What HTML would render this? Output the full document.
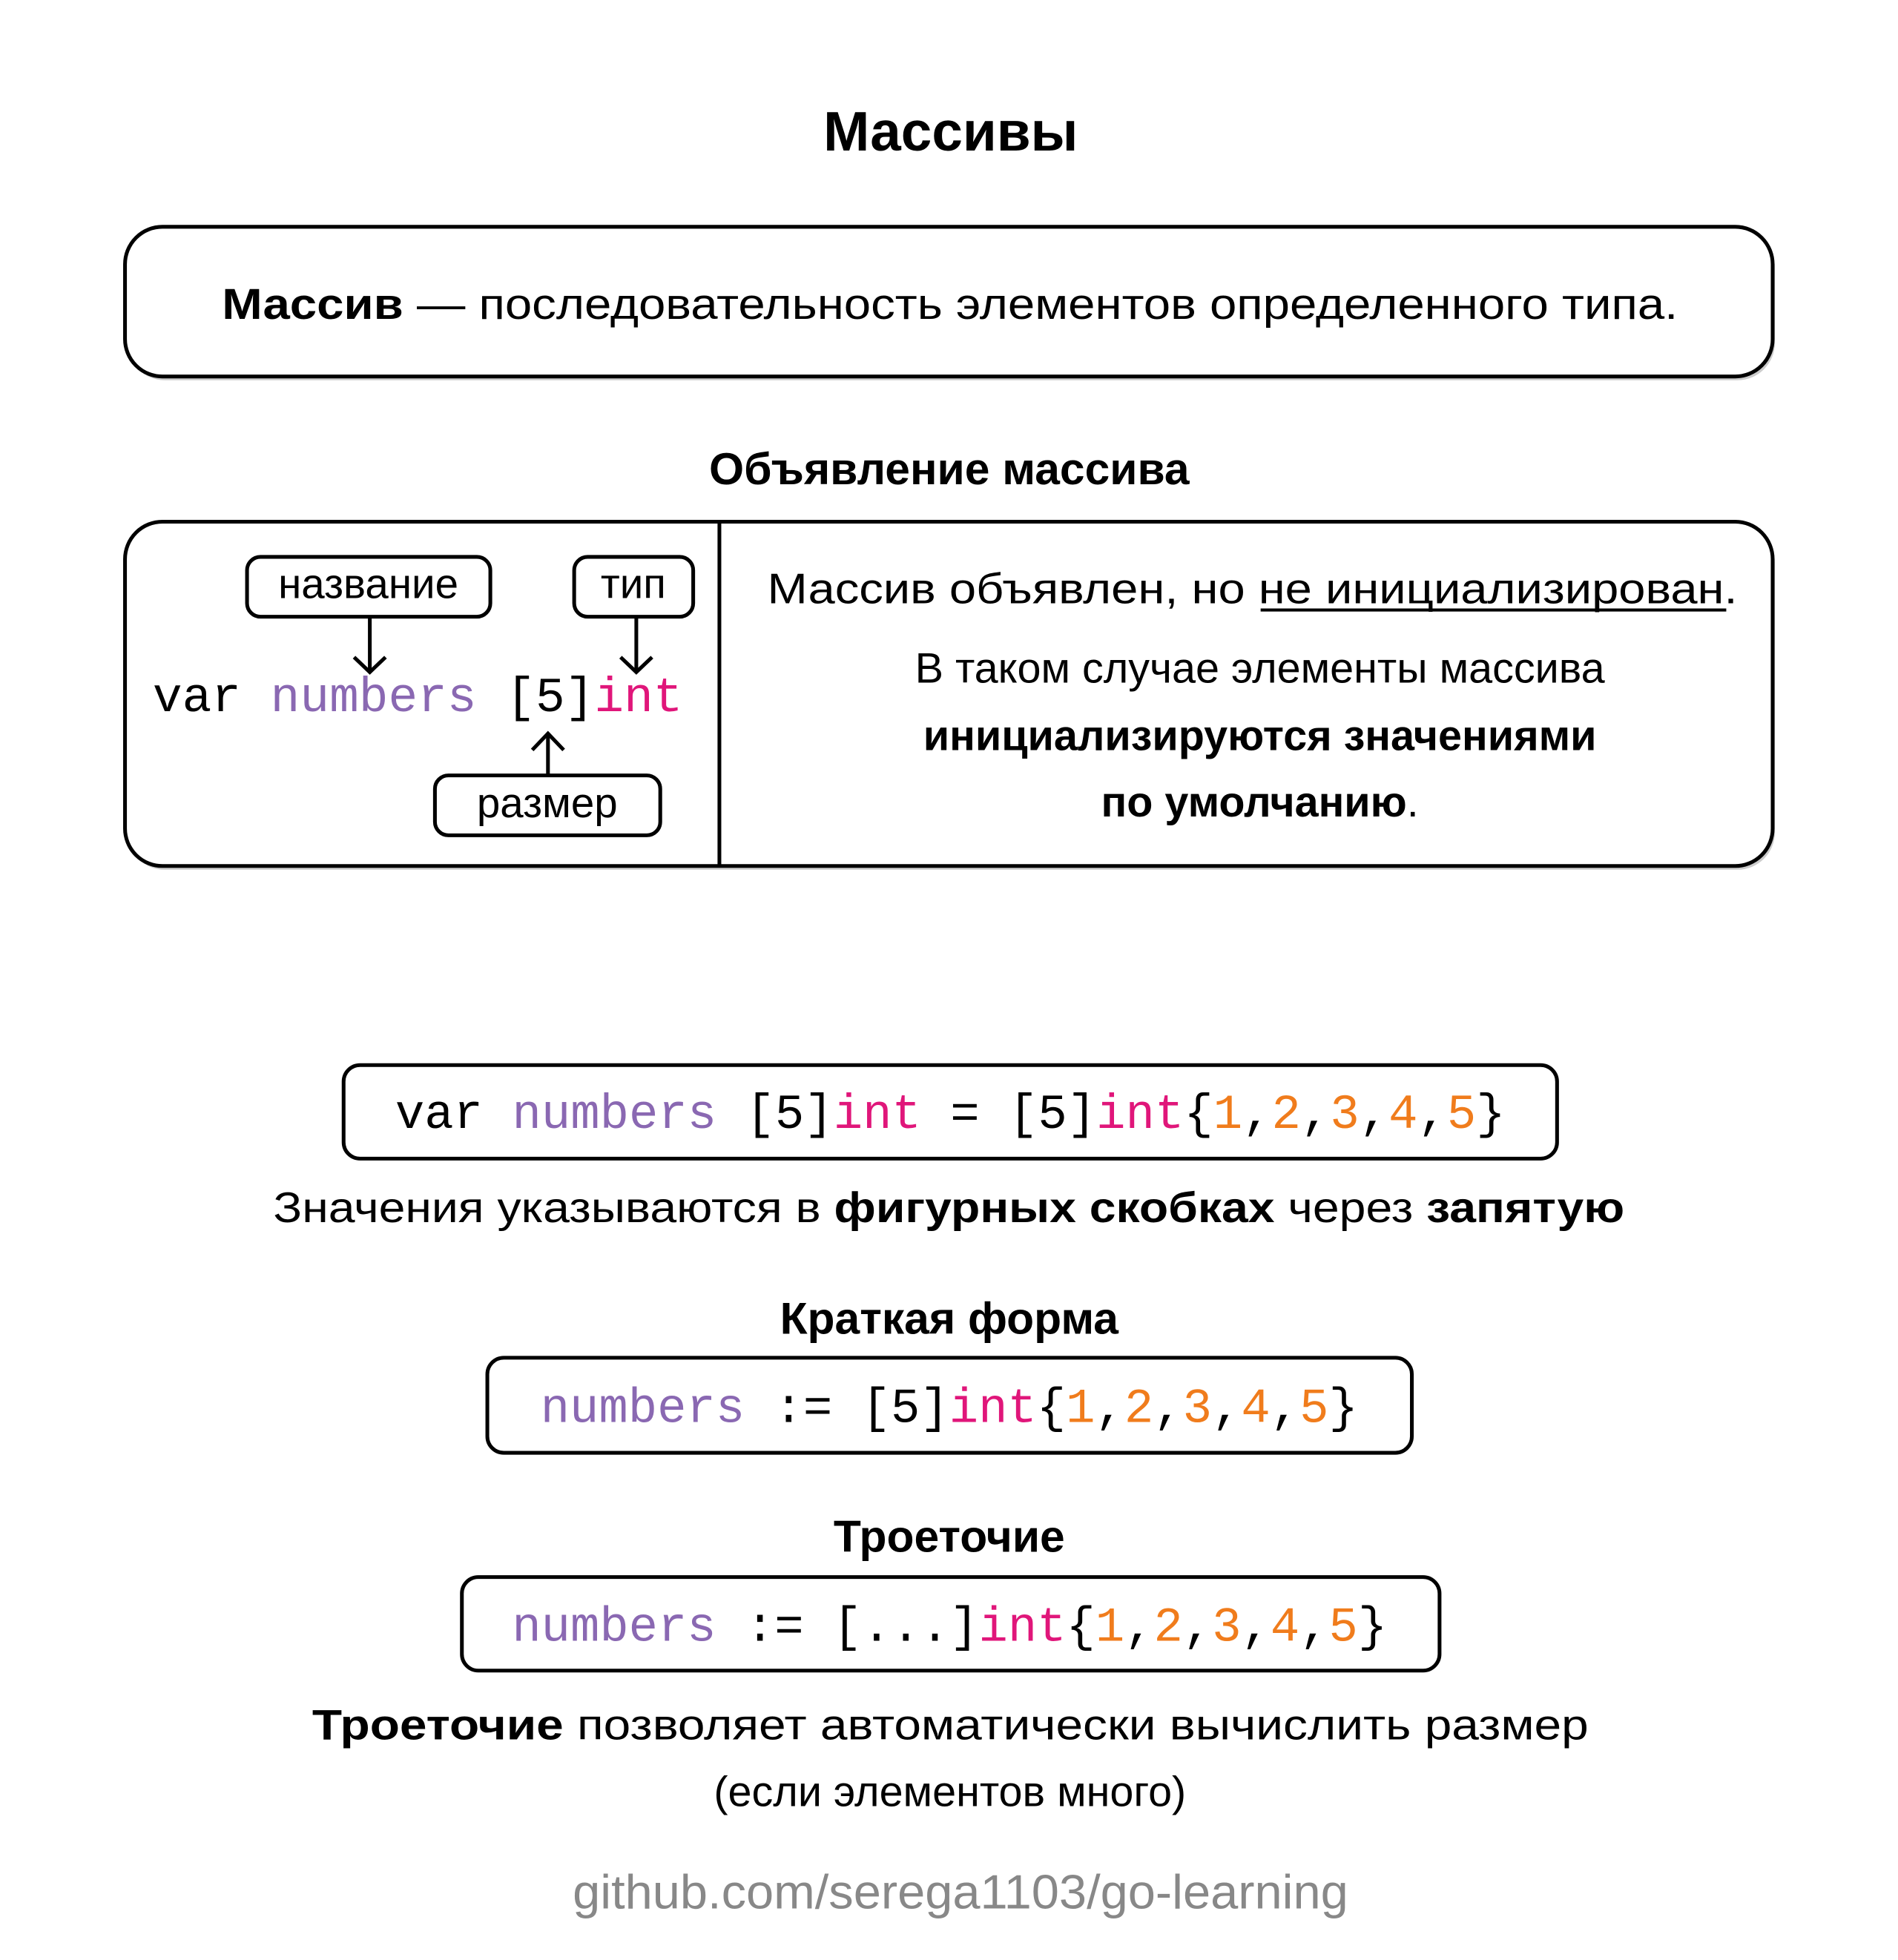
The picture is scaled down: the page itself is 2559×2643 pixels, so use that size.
<!DOCTYPE html>
<html><head><meta charset="utf-8"><style>
html,body{margin:0;padding:0;background:#fff}
svg{display:block}
text{font-family:"Liberation Sans",sans-serif;fill:#000}
.m{font-family:"Liberation Mono",monospace}
.p{fill:#8a68b2}.k{fill:#e0167a}.o{fill:#f07c1c}
.b{font-weight:bold}
</style></head><body>
<svg width="2559" height="2643" viewBox="0 0 2559 2643" xmlns="http://www.w3.org/2000/svg">
<g transform="scale(1.0093)">
<text x="1270" y="201" font-size="74" class="b" text-anchor="middle">Массивы</text>

<rect x="170" y="308" width="2201" height="200" rx="50" fill="#ccc"/>
<rect x="167" y="303" width="2201" height="200" rx="50" fill="#fff" stroke="#000" stroke-width="5"/>
<text x="1269" y="426" font-size="58" text-anchor="middle" textLength="1945" lengthAdjust="spacingAndGlyphs"><tspan class="b">Массив</tspan> — последовательность элементов определенного типа.</text>

<text x="1268" y="647" font-size="60" class="b" text-anchor="middle">Объявление массива</text>

<rect x="170" y="702" width="2201" height="460" rx="50" fill="#ccc"/>
<rect x="167" y="697" width="2201" height="460" rx="50" fill="#fff" stroke="#000" stroke-width="5"/>
<line x1="961" y1="697" x2="961" y2="1159" stroke="#000" stroke-width="5"/>

<rect x="330" y="744" width="325" height="80" rx="18" fill="#fff" stroke="#000" stroke-width="5"/>
<text x="492" y="799" font-size="56" text-anchor="middle">название</text>
<rect x="767" y="744" width="159" height="80" rx="18" fill="#fff" stroke="#000" stroke-width="5"/>
<text x="846" y="799" font-size="56" text-anchor="middle">тип</text>
<rect x="581" y="1036" width="301" height="80" rx="18" fill="#fff" stroke="#000" stroke-width="5"/>
<text x="731" y="1092" font-size="56" text-anchor="middle">размер</text>

<g stroke="#000" stroke-width="5" fill="none">
<line x1="494" y1="824" x2="494" y2="898"/><polyline points="473,878 494,898 515,878"/>
<line x1="850" y1="824" x2="850" y2="898"/><polyline points="829,878 850,898 871,878"/>
<line x1="732" y1="1036" x2="732" y2="980"/><polyline points="711,1002 732,980 753,1002"/>
</g>
<text x="204" y="950" font-size="65" class="m" textLength="708" lengthAdjust="spacingAndGlyphs">var <tspan class="p">numbers</tspan> [5]<tspan class="k">int</tspan></text>

<text x="1025" y="806" font-size="57" textLength="1296" lengthAdjust="spacingAndGlyphs">Массив объявлен, но не инициализирован.</text>
<line x1="1684" y1="815" x2="2306" y2="815" stroke="#000" stroke-width="4"/>
<text x="1683" y="912" font-size="57" text-anchor="middle">В таком случае элементы массива</text>
<text x="1683" y="1002" font-size="57" class="b" text-anchor="middle">инициализируются значениями</text>
<text x="1683" y="1091" font-size="57" text-anchor="middle"><tspan class="b">по умолчанию</tspan>.</text>

<rect x="459" y="1423" width="1621" height="125" rx="22" fill="#fff" stroke="#000" stroke-width="5"/>
<text x="528" y="1507" font-size="65" class="m" textLength="1483" lengthAdjust="spacingAndGlyphs">var <tspan class="p">numbers</tspan> [5]<tspan class="k">int</tspan> = [5]<tspan class="k">int</tspan>{<tspan class="o">1</tspan>,<tspan class="o">2</tspan>,<tspan class="o">3</tspan>,<tspan class="o">4</tspan>,<tspan class="o">5</tspan>}</text>
<text x="365" y="1633" font-size="57" textLength="1805" lengthAdjust="spacingAndGlyphs">Значения указываются в <tspan class="b">фигурных скобках</tspan> через <tspan class="b">запятую</tspan></text>

<text x="1268" y="1782" font-size="60" class="b" text-anchor="middle">Краткая форма</text>
<rect x="651" y="1814" width="1235" height="127" rx="22" fill="#fff" stroke="#000" stroke-width="5"/>
<text x="722" y="1900" font-size="65" class="m" textLength="1092" lengthAdjust="spacingAndGlyphs"><tspan class="p">numbers</tspan> := [5]<tspan class="k">int</tspan>{<tspan class="o">1</tspan>,<tspan class="o">2</tspan>,<tspan class="o">3</tspan>,<tspan class="o">4</tspan>,<tspan class="o">5</tspan>}</text>

<text x="1268" y="2073" font-size="60" class="b" text-anchor="middle">Троеточие</text>
<rect x="617" y="2107" width="1306" height="125" rx="22" fill="#fff" stroke="#000" stroke-width="5"/>
<text x="684" y="2192" font-size="65" class="m" textLength="1169" lengthAdjust="spacingAndGlyphs"><tspan class="p">numbers</tspan> := [...]<tspan class="k">int</tspan>{<tspan class="o">1</tspan>,<tspan class="o">2</tspan>,<tspan class="o">3</tspan>,<tspan class="o">4</tspan>,<tspan class="o">5</tspan>}</text>

<text x="417" y="2324" font-size="57" textLength="1705" lengthAdjust="spacingAndGlyphs"><tspan class="b">Троеточие</tspan> позволяет автоматически вычислить размер</text>
<text x="1269" y="2413" font-size="57" text-anchor="middle">(если элементов много)</text>

<text x="1283" y="2550" font-size="64" text-anchor="middle" style="fill:#888" textLength="1036" lengthAdjust="spacingAndGlyphs">github.com/serega1103/go-learning</text>
</g>
</svg>
</body></html>
